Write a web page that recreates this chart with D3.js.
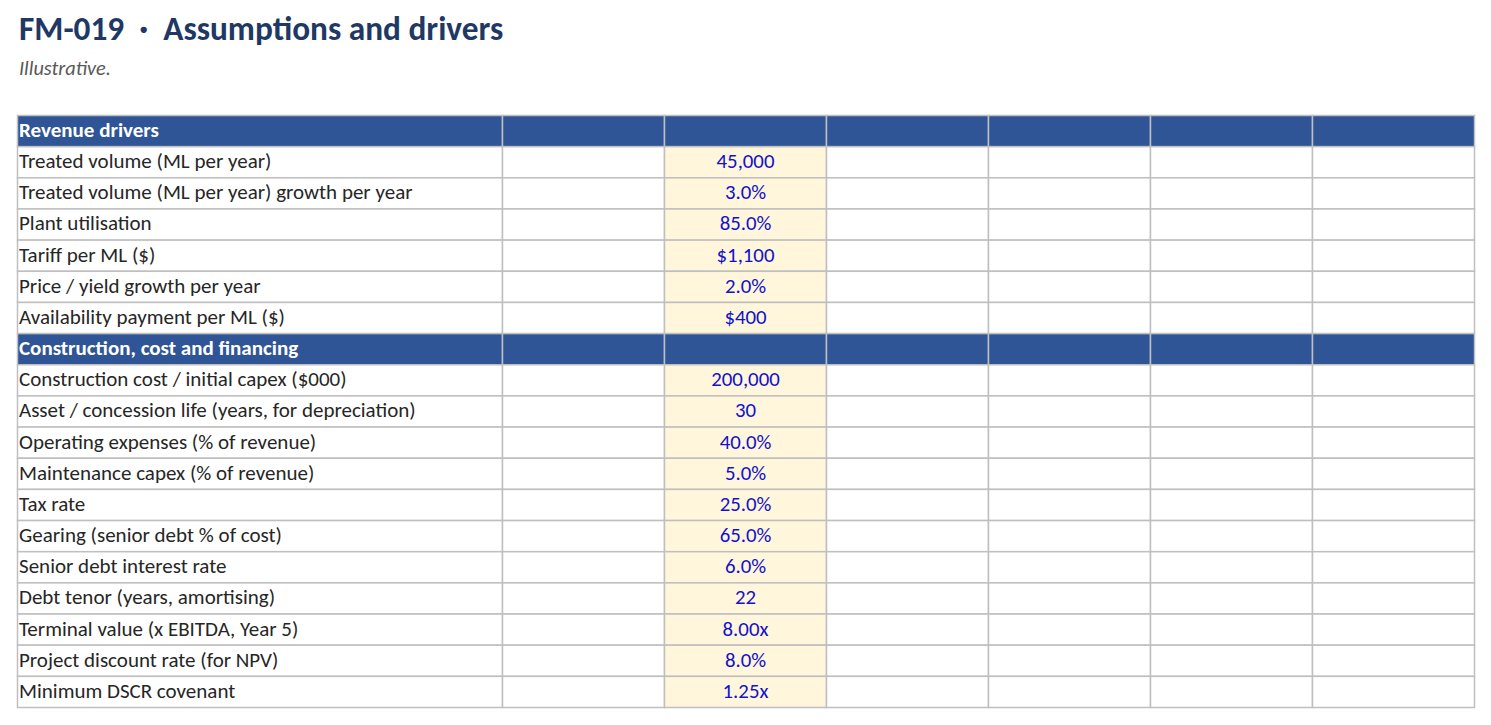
<!DOCTYPE html>
<html>
<head>
<meta charset="utf-8">
<script src="https://cdn.jsdelivr.net/npm/d3@7"></script>
<style>
  body { margin: 0; background: #fff; }
  svg { display: block; font-family: Carlito, Lato, sans-serif; }
</style>
</head>
<body>
<div id="chart"></div>
<script>
// sheet content
var titleCode = "FM-019";
var titleText = "Assumptions and drivers";
var subtitle = "Illustrative.";
var sections = ["Revenue drivers", "Construction, cost and financing"];
var revenueLabels = [
    "Treated volume (ML per year)",
    "Treated volume (ML per year) growth per year",
    "Plant utilisation",
    "Tariff per ML ($)",
    "Price / yield growth per year",
    "Availability payment per ML ($)"
];
var revenueValues = ["45,000", "3.0%", "85.0%", "$1,100", "2.0%", "$400"];
var costLabels = [
    "Construction cost / initial capex ($000)",
    "Asset / concession life (years, for depreciation)",
    "Operating expenses (% of revenue)",
    "Maintenance capex (% of revenue)",
    "Tax rate",
    "Gearing (senior debt % of cost)",
    "Senior debt interest rate",
    "Debt tenor (years, amortising)",
    "Terminal value (x EBITDA, Year 5)",
    "Project discount rate (for NPV)",
    "Minimum DSCR covenant"
];
var costValues = ["200,000", "30", "40.0%", "5.0%", "25.0%", "65.0%", "6.0%", "22", "8.00x", "8.0%", "1.25x"];
var columns = ["label", "c1", "input", "c3", "c4", "c5", "c6"];

function init() {
    var w = 1491;
    var h = 725;

    // build row list from the arrays
    var rows = [];
    rows.push({type: "head", label: sections[0]});
    revenueLabels.forEach(function(d, i) { rows.push({type: "row", label: d, value: revenueValues[i]}); });
    rows.push({type: "head", label: sections[1]});
    costLabels.forEach(function(d, i) { rows.push({type: "row", label: d, value: costValues[i]}); });

    var svg = d3.select("#chart")
            .append("svg")
            .attr("width", w)
            .attr("height", h);

    svg.append("text")
        .attr("x", 19)
        .attr("y", 40)
        .attr("xml:space", "preserve")
        .style("font-size", "33.3px")
        .style("font-weight", "bold")
        .style("fill", "#1f3864")
        .text(titleCode + "  \u00b7  " + titleText);

    svg.append("text")
        .attr("x", 19)
        .attr("y", 75)
        .style("font-size", "20.3px")
        .style("font-style", "italic")
        .style("fill", "#595959")
        .text(subtitle);

    // first column is wider, others equal
    var colWidths = [485, 162, 162, 162, 162, 162, 162];
    var colX = [17];
    colWidths.forEach(function(d, i) { colX.push(colX[i] + d); });

    var y = d3.scaleBand()
            .domain(d3.range(rows.length))
            .range([115, 707]);

    var rowG = svg.selectAll("g.row")
            .data(rows)
            .enter()
            .append("g")
            .attr("class", "row")
            .attr("transform", function(d, i) { return "translate(0," + y(i) + ")"; });

    rowG.selectAll("rect")
        .data(function(d) { return columns.map(function(c, j) { return {row: d, col: j}; }); })
        .enter()
        .append("rect")
        .attr("x", function(d) { return colX[d.col] + 0.5; })
        .attr("y", 0.5)
        .attr("width", function(d) { return colWidths[d.col]; })
        .attr("height", y.bandwidth())
        .style("fill", function(d) {
            if (d.row.type == "head") return "#2f5597";
            if (d.col == 2) return "#fff6dc";
            return "#fff";
        })
        .style("stroke", "#bfbfbf")
        .style("stroke-width", 1.5);

    rowG.append("text")
        .attr("x", 19)
        .attr("y", 22)
        .style("font-size", "21px")
        .style("font-weight", function(d) { return d.type == "head" ? "bold" : "normal"; })
        .style("fill", function(d) { return d.type == "head" ? "#fff" : "#262626"; })
        .text(function(d) { return d.label; });

    rowG.filter(function(d) { return d.type == "row"; })
        .append("text")
        .attr("x", colX[2] + colWidths[2] / 2 + 0.5)
        .attr("y", 22)
        .attr("text-anchor", "middle")
        .style("font-size", "20.8px")
        .style("fill", "#1212cc")
        .text(function(d) { return d.value; });
}

window.onload = init;
</script>
</body>
</html>
